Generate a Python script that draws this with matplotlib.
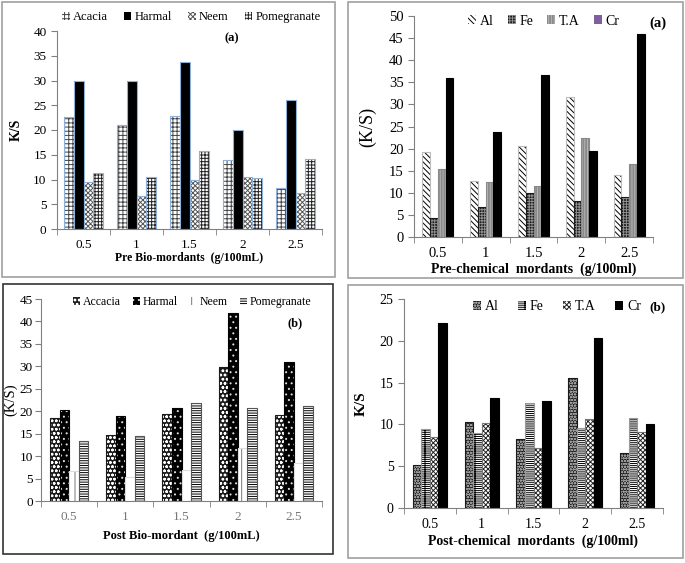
import matplotlib.pyplot as plt
from matplotlib.patches import Rectangle, Patch
import numpy as np

plt.rcParams['font.family'] = ['Liberation Serif', 'DejaVu Serif']
plt.rcParams['hatch.linewidth'] = 0.7

# ── DATA ──────────────────────────────────────────────────────────────────────
doses = ["0.5", "1", "1.5", "2", "2.5"]

# (a) pre bio-mordants
pre_bio_names = ["Acacia", "Harmal", "Neem", "Pomegranate"]
pre_acacia = [22.6, 21.1, 22.8, 14.0, 8.3]
pre_harmal = [30.0, 30.0, 33.7, 20.0, 26.1]
pre_neem = [9.4, 6.6, 9.8, 10.6, 7.3]
pre_pomegranate = [11.4, 10.6, 15.8, 10.3, 14.2]

# (a) pre chemical mordants
pre_chem_names = ["Al", "Fe", "T.A", "Cr"]
pre_al = [19.3, 12.6, 20.7, 31.7, 14.1]
pre_fe = [4.4, 6.7, 10.0, 8.2, 9.0]
pre_ta = [15.3, 12.4, 11.6, 22.3, 16.5]
pre_cr = [35.9, 23.8, 36.6, 19.5, 45.9]

# (b) post bio-mordants
post_bio_names = ["Accacia", "Harmal", "Neem", "Pomegranate"]
post_accacia = [18.5, 14.6, 19.3, 29.8, 19.1]
post_harmal = [20.3, 18.9, 20.8, 41.8, 31.0]
post_neem = [6.6, 5.3, 7.0, 11.7, 8.4]
post_pomegranate = [13.4, 14.4, 21.8, 20.7, 21.1]

# (b) post chemical mordants
post_chem_names = ["Al", "Fe", "T.A", "Cr"]
post_al = [5.1, 10.3, 8.2, 15.5, 6.6]
post_fe = [9.5, 9.0, 12.6, 9.6, 10.8]
post_ta = [8.5, 10.2, 7.2, 10.6, 9.1]
post_cr = [22.1, 13.2, 12.8, 20.3, 10.0]

W, H = 685, 563


def fig_rect(x0, y0, x1, y1):
    """pixel box (top-left origin) -> figure fraction [l, b, w, h]"""
    return [x0 / W, 1 - y1 / H, (x1 - x0) / W, (y1 - y0) / H]


def draw_panel(ax, series, styles, ymax, width, fs):
    x = np.arange(len(doses))
    bw = width / len(series)
    handles = []
    for i, (vals, st) in enumerate(zip(series, styles)):
        pos = x + (i - (len(series) - 1) / 2) * bw
        face, hatch, hcol, outline = st
        ax.bar(pos, vals, bw, color=face, hatch=hatch, edgecolor=hcol, linewidth=0)
        ax.bar(pos, vals, bw, fill=False, edgecolor=outline, linewidth=0.8)
        handles.append(Patch(facecolor=face, hatch=hatch, edgecolor=hcol, linewidth=0))
    ax.set_xlim(-0.5, len(doses) - 0.5)
    ax.set_ylim(0, ymax)
    ax.set_yticks(np.arange(0, ymax + 1, 5))
    ax.set_xticks(x)
    ax.set_xticklabels(doses)
    ax.set_xticks(np.arange(-0.5, len(doses)), minor=True)
    ax.tick_params(axis="x", which="major", length=0, pad=7, labelsize=fs)
    ax.tick_params(axis="x", which="minor", length=4, color="#808080")
    ax.tick_params(axis="y", length=4, color="#808080", labelsize=fs)
    ax.spines[["top", "right"]].set_visible(False)
    ax.spines[["left", "bottom"]].set_color("#808080")
    ax.set_facecolor("none")
    return handles


def add_legend(ax, handles, names, x, y, fs, spacing):
    return ax.legend(handles, names, loc="center left", bbox_to_anchor=(x, y), ncol=4,
                     frameon=False, fontsize=fs, handlelength=0.6, handleheight=0.6,
                     handletextpad=0.25, columnspacing=spacing,
                     borderaxespad=0, borderpad=0)


fig = plt.figure(figsize=(6.85, 5.63), dpi=100)

# panel frames
for (x0, y0, x1, y1, col) in [(2, 2, 335, 277, "#a0a0a0"), (348, 2, 683, 278, "#a0a0a0"),
                              (3, 284, 333, 554, "#333333"), (348, 285, 683, 558, "#a0a0a0")]:
    fig.patches.append(Rectangle((x0 / W, 1 - y1 / H), (x1 - x0) / W, (y1 - y0) / H,
                                 transform=fig.transFigure, fill=False,
                                 edgecolor=col, linewidth=1.2))

edge_blue = "#8fb0d8"

# ── (a) Pre bio-mordants ──────────────────────────────────────────────────────
ax1 = fig.add_axes(fig_rect(57, 31, 322, 229))
h1 = draw_panel(ax1, [pre_acacia, pre_harmal, pre_neem, pre_pomegranate],
                [("white", "++++", "#444444", edge_blue),
                 ("black", None, "black", edge_blue),
                 ("white", "xxxxxxx", "#555555", edge_blue),
                 ("white", "+++++", "#222222", edge_blue)], 40, 0.74, 9.5)
add_legend(ax1, h1, pre_bio_names, 0.019, 1.071, 9, 1.3)
ax1.text(0.66, 0.965, "(a)", transform=ax1.transAxes, fontsize=9, fontweight="bold",
         ha="center", va="center")
ax1.set_ylabel("K/S", fontsize=10, fontweight="bold")
ax1.yaxis.set_label_coords(-0.13, 0.5)
ax1.set_xlabel("Pre Bio-mordants  (g/100mL)", fontsize=8.5, fontweight="bold", labelpad=1)

# ── (a) Pre chemical mordants ─────────────────────────────────────────────────
ax2 = fig.add_axes(fig_rect(414, 16, 653, 237))
h2 = draw_panel(ax2, [pre_al, pre_fe, pre_ta, pre_cr],
                [("white", "\\\\\\\\\\\\", "black", "#bbbbbb"),
                 ("#1a1a1a", "++++++", "#909090", "#1a1a1a"),
                 ("#8a8a8a", "||||||", "#b5b5b5", "#8a8a8a"),
                 ("black", None, "black", "black")], 50, 0.65, 10.5)
h2[3] = Patch(facecolor="#7f5f9f")
add_legend(ax2, h2, pre_chem_names, 0.226, 0.977, 10, 1.0)
ax2.text(1.02, 0.968, "(a)", transform=ax2.transAxes, fontsize=10.5, fontweight="bold",
         ha="center", va="center")
ax2.set_ylabel("(K/S)", fontsize=13)
ax2.yaxis.set_label_coords(-0.16, 0.5)
ax2.set_xlabel("Pre-chemical  mordants  (g/100ml)", fontsize=10, fontweight="bold", labelpad=2)

# ── (b) Post bio-mordants ─────────────────────────────────────────────────────
ax3 = fig.add_axes(fig_rect(41, 299, 322, 501))
h3 = draw_panel(ax3, [post_accacia, post_harmal, post_neem, post_pomegranate],
                [("#1a1a1a", "oooo", "white", "#1a1a1a"),
                 ("black", "...", "#dddddd", "black"),
                 ("white", "|", "#777777", "#dddddd"),
                 ("white", "-------", "black", "#555555")], 45, 0.68, 9.5)
ax3.tick_params(axis="y", pad=2)
add_legend(ax3, h3, post_bio_names, 0.114, 0.985, 8.5, 1.0)
ax3.text(0.904, 0.881, "(b)", transform=ax3.transAxes, fontsize=9, fontweight="bold",
         ha="center", va="center")
ax3.set_ylabel("(K/S)", fontsize=10.5)
ax3.yaxis.set_label_coords(-0.085, 0.5)
ax3.set_xlabel("Post Bio-mordant  (g/100mL)", fontsize=9, fontweight="bold", labelpad=5)
for lbl in ax3.get_xticklabels():
    lbl.set_color("#777777")

# ── (b) Post chemical mordants ────────────────────────────────────────────────
ax4 = fig.add_axes(fig_rect(404, 299, 663, 508))
h4 = draw_panel(ax4, [post_al, post_fe, post_ta, post_cr],
                [("#1a1a1a", "oooooo", "#9a9a9a", "#1a1a1a"),
                 ("white", "--------|", "black", "#999999"),
                 ("white", "xxxxxxx", "#222222", "#777777"),
                 ("black", None, "black", "black")], 25, 0.66, 10)
add_legend(ax4, h4, post_chem_names, 0.266, 0.962, 10, 1.4)
ax4.text(0.977, 0.962, "(b)", transform=ax4.transAxes, fontsize=9.5, fontweight="bold",
         ha="center", va="center")
ax4.set_ylabel("K/S", fontsize=11, fontweight="bold")
ax4.yaxis.set_label_coords(-0.14, 0.5)
ax4.set_xlabel("Post-chemical  mordants  (g/100ml)", fontsize=10, fontweight="bold", labelpad=3)

fig.savefig("out.png", dpi=100)
